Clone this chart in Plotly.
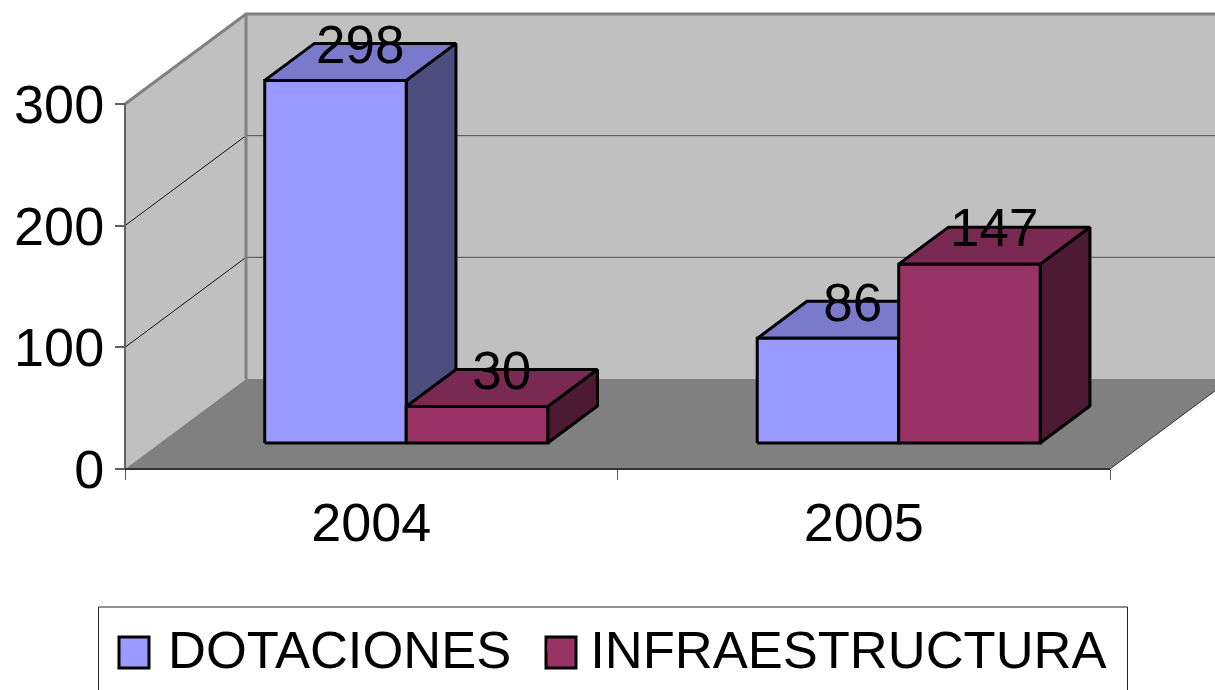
import plotly.graph_objects as go

categories = ["2004", "2005"]
series_names = ["DOTACIONES", "INFRAESTRUCTURA"]
dotaciones = [298, 86]
infraestructura = [30, 147]
series_values = [dotaciones, infraestructura]
y_ticks = [0, 100, 200, 300]

FACE = ["#9999ff", "#993366"]
TOP = ["#7a7acc", "#7a2952"]
SIDE = ["#4d4d80", "#4d1a33"]

W, H = 1215, 690
PX_X, PX_Y = 492.5, 1.2167   # pixels per category / per value unit
X0, Y0 = 125, 469            # pixel location of the origin
WALL_DX, WALL_DY = 121 / PX_X, 90 / PX_Y
BAR_W = 141.5 / PX_X
GAP = (1 - 2 * BAR_W) / 2
D0, D1 = 0.289, 0.70         # bar depth start/end as share of wall depth

fig = go.Figure()

def poly(xs, ys, fill, line="black", width=3):
    fig.add_trace(go.Scatter(x=xs + xs[:1], y=ys + ys[:1], mode="lines", fill="toself",
                             fillcolor=fill, line=dict(color=line, width=width),
                             showlegend=False, hoverinfo="skip"))

def seg(xs, ys, color="black", width=1):
    fig.add_trace(go.Scatter(x=xs, y=ys, mode="lines", line=dict(color=color, width=width),
                             showlegend=False, hoverinfo="skip"))

top = y_ticks[-1]
xmax = len(categories)
# walls and floor
poly([0, WALL_DX, WALL_DX, 0], [0, WALL_DY, top + WALL_DY, top], "#c0c0c0", "#c0c0c0", 0)
poly([WALL_DX, xmax + WALL_DX, xmax + WALL_DX, WALL_DX], [WALL_DY, WALL_DY, top + WALL_DY, top + WALL_DY], "#c0c0c0", "#c0c0c0", 0)
poly([0, WALL_DX, xmax + WALL_DX, xmax], [0, WALL_DY, WALL_DY, 0], "#808080", "#808080", 0)
# gridlines
for t in y_ticks[1:3]:
    seg([0, WALL_DX], [t, t + WALL_DY], "#111111", 1)
    seg([WALL_DX, xmax + WALL_DX], [t + WALL_DY, t + WALL_DY], "#505050", 1)
# wall borders
seg([0, WALL_DX, xmax + WALL_DX], [top, top + WALL_DY, top + WALL_DY], "#808080", 3)
seg([WALL_DX, WALL_DX], [WALL_DY, top + WALL_DY], "#808080", 3)
seg([0, 0], [0, top], "#606060", 2)
seg([0, xmax], [0, 0], "#333333", 2)
seg([xmax, xmax + WALL_DX], [0, WALL_DY], "#333333", 1)

# bars
labels_x, labels_y, labels_t = [], [], []
dx0, dy0 = D0 * WALL_DX, D0 * WALL_DY
ddx, ddy = (D1 - D0) * WALL_DX, (D1 - D0) * WALL_DY
for c in range(len(categories)):
    for s in range(len(series_values)):
        v = series_values[s][c]
        l = c + GAP + s * BAR_W + dx0
        r = l + BAR_W
        b = dy0
        t = dy0 + v
        poly([r, r + ddx, r + ddx, r], [b, b + ddy, t + ddy, t], SIDE[s])
        poly([l, l + ddx, r + ddx, r], [t, t + ddy, t + ddy, t], TOP[s])
        poly([l, r, r, l], [b, b, t, t], FACE[s])
        labels_x.append((l + r) / 2 + ddx / 2)
        labels_y.append(t + ddy - 6 / PX_Y)
        labels_t.append(str(v))

fig.add_trace(go.Scatter(x=labels_x, y=labels_y, text=labels_t, mode="text",
                         textposition="middle center",
                         textfont=dict(size=53, color="black"),
                         showlegend=False, hoverinfo="skip"))

# legend entries
for s, name in enumerate(series_names):
    fig.add_trace(go.Scatter(x=[None], y=[None], mode="markers", name=name,
                             marker=dict(symbol="square", size=12, color=FACE[s])))

# legend frame and large swatches behind the legend's own symbols
shapes = [dict(type="rect", xref="paper", yref="paper", layer="above",
               x0=98.5 / W, x1=1127.5 / W, y0=(H - 700) / H, y1=(H - 607) / H,
               fillcolor="rgba(0,0,0,0)", line=dict(color="#222222", width=1))]
for s, s_x in enumerate((118, 545)):
    shapes.append(dict(type="rect", xref="paper", yref="paper", layer="above",
                       x0=(s_x + 1) / W, x1=(s_x + 31) / W, y0=(H - 668) / H, y1=(H - 637) / H,
                       fillcolor=FACE[s], line=dict(color="black", width=3)))

fig.update_layout(
    width=W, height=H, autosize=False,
    margin=dict(l=0, r=0, t=0, b=0, pad=0, autoexpand=False),
    paper_bgcolor="white", plot_bgcolor="white",
    font=dict(family="Liberation Sans", color="black", size=54),
    shapes=shapes,
    showlegend=True,
    xaxis=dict(range=[-X0 / PX_X, (W - X0) / PX_X], showgrid=False, zeroline=False, showline=False,
               tickmode="array", tickvals=[0.5, 1.5], ticktext=categories, ticks="",
               anchor="free", position=(H - Y0) / H, tickfont=dict(size=54), ticklabelstandoff=17,
               minor=dict(tickmode="array", tickvals=[0, 1, 2], ticks="outside", ticklen=10,
                          tickcolor="#555555", tickwidth=1, showgrid=False)),
    yaxis=dict(range=[-(H - Y0) / PX_Y, Y0 / PX_Y], showgrid=False, zeroline=False, showline=False,
               tickmode="array", tickvals=y_ticks, ticks="outside", ticklen=10,
               tickcolor="#606060", tickwidth=2, anchor="free", position=X0 / W,
               tickfont=dict(size=54)),
    legend=dict(orientation="h", x=94 / W, y=(H - 607) / H, xanchor="left", yanchor="top",
                bgcolor="rgba(0,0,0,0)", borderwidth=0,
                font=dict(size=52.5), itemwidth=64,
                itemclick=False, itemdoubleclick=False, traceorder="normal"),
)
fig.write_html("out.html", config=dict(displayModeBar=False),
               post_script="document.body.style.margin='0';document.documentElement.style.overflow='hidden';")
